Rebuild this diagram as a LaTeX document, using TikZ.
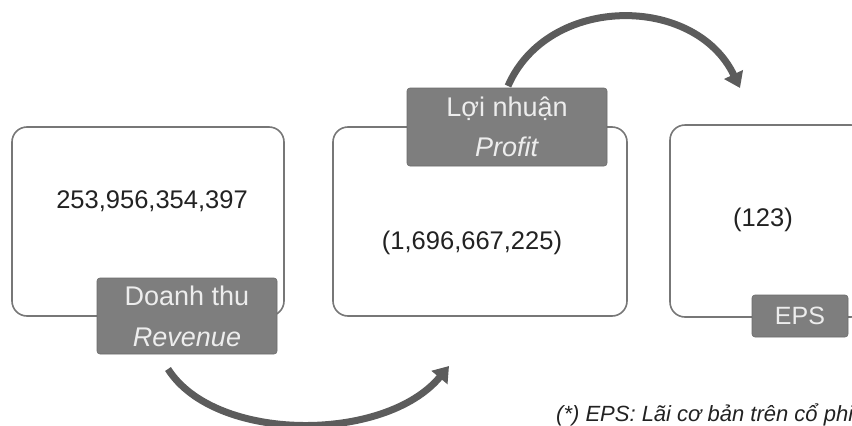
\documentclass[tikz,border=0pt]{standalone}
\usepackage{fontspec}
\setmainfont{Liberation Sans}
\usetikzlibrary{arrows.meta}
\definecolor{boxline}{HTML}{777777}
\definecolor{labfill}{HTML}{7E7E7E}
\definecolor{labtext}{HTML}{EDEDED}
\definecolor{arrowc}{HTML}{5C5C5C}
\definecolor{numtext}{HTML}{222222}
\tikzset{
  bigbox/.style={draw=boxline, line width=1.6pt, rounded corners=15pt, fill=white},
  labbox/.style={fill=labfill, draw=labfill!85!black, line width=0.6pt, rounded corners=3pt, text=labtext, align=center, inner sep=0pt},
  numtxt/.style={text=numtext, font=\fontsize{25.5}{30}\selectfont, inner sep=0pt},
  flow/.style={draw=arrowc, line width=7pt, -{Triangle[length=15pt,width=20pt]}},
}
\begin{document}
\begin{tikzpicture}[x=1pt,y=-1pt]
\useasboundingbox (0,0) rectangle (852,426);
% boxes
\node[bigbox, minimum width=272pt, minimum height=189pt] (b1) at (148,221.5) {};
\node[bigbox, minimum width=294pt, minimum height=189pt] (b2) at (480,221.5) {};
\node[bigbox, minimum width=196pt, minimum height=192pt] (b3) at (768,221) {};
% numbers
\node[numtxt] (n1) at (152,201) {253,956,354,397};
\node[numtxt] (n2) at (472,243) {(1,696,667,225)};
\node[numtxt] (n3) at (763,220) {(123)};
% labels
\node[labbox, minimum width=180pt, minimum height=76pt, font=\fontsize{27}{41}\selectfont] (l1) at (187,316) {Doanh thu\\\textit{Revenue}};
\node[labbox, minimum width=200pt, minimum height=78pt, font=\fontsize{27}{40}\selectfont] (l2) at (507,127) {Lợi nhuận\\\textit{Profit}};
\node[labbox, minimum width=96pt, minimum height=42pt, font=\fontsize{25}{28}\selectfont] (l3) at (800,316) {EPS};
% arrows
\coordinate (a1s) at (168,369);
\coordinate (a1e) at (449,366);
\coordinate (a2s) at (508,86);
\coordinate (a2e) at (740,88);
\draw[flow] (a1s) .. controls (215,443) and (385,443) .. (a1e);
\draw[flow] (a2s) .. controls (548,-6) and (695,-6) .. (a2e);
% footnote
\node[anchor=base west, inner sep=0pt, text=numtext, font=\fontsize{22}{24}\selectfont\itshape] (fn) at (556,421) {(*) EPS: Lãi cơ bản trên cổ phi};
\end{tikzpicture}
\end{document}
